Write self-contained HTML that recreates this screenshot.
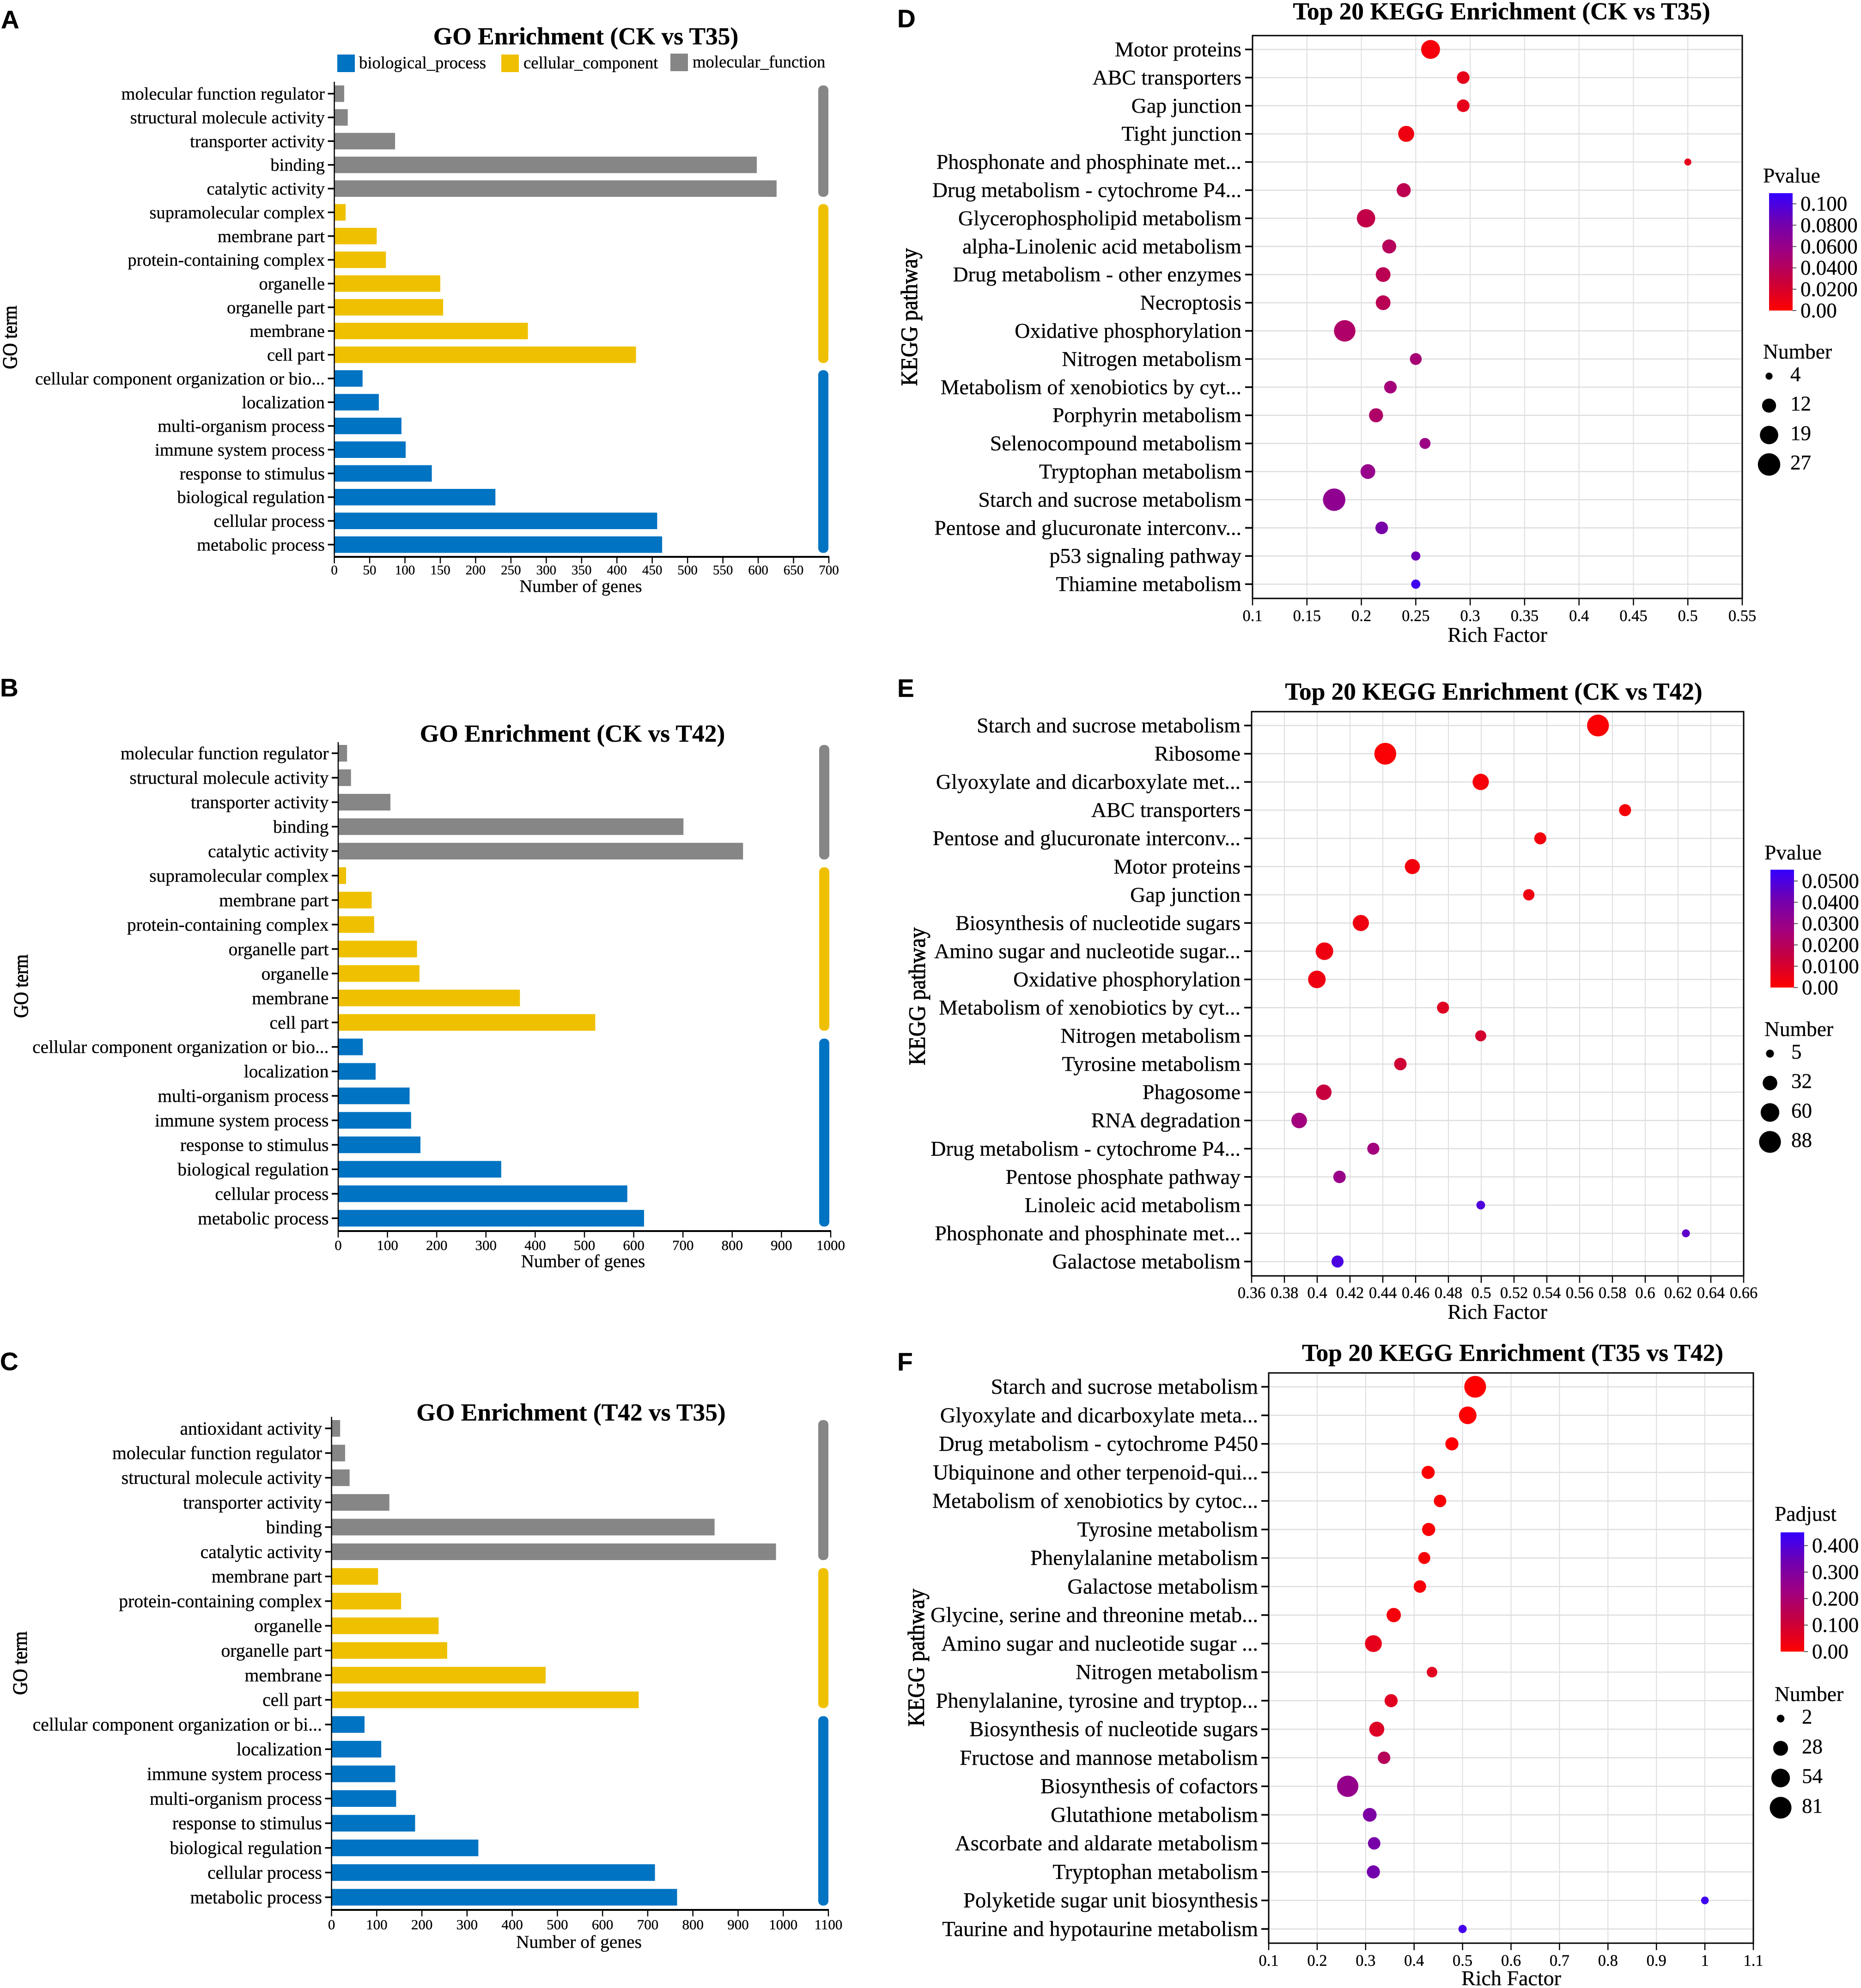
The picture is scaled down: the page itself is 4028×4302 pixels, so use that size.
<!DOCTYPE html>
<html lang="en">
<head>
<meta charset="utf-8">
<title>GO and KEGG Enrichment Panels</title>
<style>
html,body{margin:0;padding:0;background:#fff;}
svg{display:block;}
text{font-family:"Liberation Serif","DejaVu Serif",serif;fill:#000;stroke:#000;stroke-width:0.3px;}
.letter{font-family:"Liberation Sans","DejaVu Sans",sans-serif;font-weight:700;font-size:55px;}
.title{font-weight:700;text-anchor:middle;}
.axt{text-anchor:middle;}
.yt{stroke-width:0.9px;}
.legt{font-size:45.5px;}
</style>
</head>
<body>
<svg id="figure" xmlns="http://www.w3.org/2000/svg" width="4028" height="4302" viewBox="0 0 4028 4302">
  <defs>
    <linearGradient id="pgrad" x1="0" y1="1" x2="0" y2="0">
      <stop offset="0" stop-color="#ff0000"/>
      <stop offset="0.25" stop-color="#c8003c"/>
      <stop offset="0.5" stop-color="#a00080"/>
      <stop offset="0.75" stop-color="#7000b0"/>
      <stop offset="1" stop-color="#3400ff"/>
    </linearGradient>
  </defs>
  <rect x="0" y="0" width="4028" height="4302" fill="#ffffff"/>

  <g id="panelA">
    <text class="letter" x="2" y="61">A</text>
    <text class="title" x="1268" y="96" font-size="53.4">GO Enrichment (CK vs T35)</text>
    <rect x="730" y="118" width="38" height="38" fill="#0073C2"/>
    <text x="777" y="148" font-size="36.7">biological_process</text>
    <rect x="1085" y="118" width="38" height="38" fill="#EFC000"/>
    <text x="1133" y="148" font-size="36.7">cellular_component</text>
    <rect x="1451" y="116" width="38" height="38" fill="#868686"/>
    <text x="1499" y="146" font-size="36.7">molecular_function</text>
    <text class="axt yt" font-size="39" transform="translate(36,730) rotate(-90) scale(1,1.13)">GO term</text>
    <text class="axt" x="1257" y="1281" font-size="38.5">Number of genes</text>
  </g>

  <g id="panelB">
    <text class="letter" x="0" y="1507">B</text>
    <text class="title" x="1239" y="1605" font-size="53.4">GO Enrichment (CK vs T42)</text>
    <text class="axt yt" font-size="39" transform="translate(60,2134) rotate(-90) scale(1,1.13)">GO term</text>
    <text class="axt" x="1262" y="2742" font-size="39">Number of genes</text>
  </g>

  <g id="panelC">
    <text class="letter" x="0" y="2965">C</text>
    <text class="title" x="1236" y="3074" font-size="53.4">GO Enrichment (T42 vs T35)</text>
    <text class="axt yt" font-size="39" transform="translate(58,3599) rotate(-90) scale(1,1.13)">GO term</text>
    <text class="axt" x="1253" y="4215" font-size="39.5">Number of genes</text>
  </g>

  <g id="panelD">
    <text class="letter" x="1942" y="59">D</text>
    <text class="title" x="3250" y="42" font-size="53.3">Top 20 KEGG Enrichment (CK vs T35)</text>
    <text class="axt yt" font-size="46.5" transform="translate(1985,686) rotate(-90) scale(1,1.1)">KEGG pathway</text>
    <text class="axt" x="3241" y="1389" font-size="46">Rich Factor</text>
    <text class="legt" x="3816" y="395">Pvalue</text>
    <text class="legt" x="3816" y="776">Number</text>
  </g>

  <g id="panelE">
    <text class="letter" x="1942" y="1508">E</text>
    <text class="title" x="3233" y="1514" font-size="53.3">Top 20 KEGG Enrichment (CK vs T42)</text>
    <text class="axt yt" font-size="46.5" transform="translate(2002,2156) rotate(-90) scale(1,1.1)">KEGG pathway</text>
    <text class="axt" x="3241" y="2854" font-size="46">Rich Factor</text>
    <text class="legt" x="3819" y="1860">Pvalue</text>
    <text class="legt" x="3819" y="2242">Number</text>
  </g>

  <g id="panelF">
    <text class="letter" x="1942" y="2966">F</text>
    <text class="title" x="3274" y="2945" font-size="53.3">Top 20 KEGG Enrichment (T35 vs T42)</text>
    <text class="axt yt" font-size="46.5" transform="translate(2000,3587) rotate(-90) scale(1,1.1)">KEGG pathway</text>
    <text class="axt" x="3271" y="4296" font-size="46">Rich Factor</text>
    <text class="legt" x="3841" y="3291">Padjust</text>
    <text class="legt" x="3841" y="3681">Number</text>
  </g>
</svg>

<script>
/* ===== Chart data ===== */
const goATerms = ["molecular function regulator","structural molecule activity","transporter activity","binding","catalytic activity","supramolecular complex","membrane part","protein-containing complex","organelle","organelle part","membrane","cell part","cellular component organization or bio...","localization","multi-organism process","immune system process","response to stimulus","biological regulation","cellular process","metabolic process"];
const goAValues = [14,19,86,598,626,16,60,73,150,154,274,427,40,63,95,101,138,228,457,464];
const goAGroupSizes = [5,7,8];
const goATicks = [0,50,100,150,200,250,300,350,400,450,500,550,600,650,700];

const goBTerms = ["molecular function regulator","structural molecule activity","transporter activity","binding","catalytic activity","supramolecular complex","membrane part","protein-containing complex","organelle part","organelle","membrane","cell part","cellular component organization or bio...","localization","multi-organism process","immune system process","response to stimulus","biological regulation","cellular process","metabolic process"];
const goBValues = [18,26,106,701,822,16,68,73,160,165,369,522,50,76,145,148,167,331,587,621];
const goBGroupSizes = [5,7,8];
const goBTicks = [0,100,200,300,400,500,600,700,800,900,1000];

const goCTerms = ["antioxidant activity","molecular function regulator","structural molecule activity","transporter activity","binding","catalytic activity","membrane part","protein-containing complex","organelle","organelle part","membrane","cell part","cellular component organization or bi...","localization","immune system process","multi-organism process","response to stimulus","biological regulation","cellular process","metabolic process"];
const goCValues = [19,30,40,128,848,984,103,154,237,256,474,680,73,110,141,143,185,325,716,765];
const goCGroupSizes = [6,6,8];
const goCTicks = [0,100,200,300,400,500,600,700,800,900,1000,1100];

const keggDTerms = ["Motor proteins","ABC transporters","Gap junction","Tight junction","Phosphonate and phosphinate met...","Drug metabolism - cytochrome P4...","Glycerophospholipid metabolism","alpha-Linolenic acid metabolism","Drug metabolism - other enzymes","Necroptosis","Oxidative phosphorylation","Nitrogen metabolism","Metabolism of xenobiotics by cyt...","Porphyrin metabolism","Selenocompound metabolism","Tryptophan metabolism","Starch and sucrose metabolism","Pentose and glucuronate interconv...","p53 signaling pathway","Thiamine metabolism"];
const keggDRich = [0.2636,0.2936,0.2936,0.2412,0.5,0.2389,0.2043,0.2256,0.22,0.22,0.1847,0.25,0.2267,0.2135,0.2585,0.206,0.175,0.2187,0.25,0.25];
const keggDCounts = [20,10,10,15,4,12,19,12,13,13,25,9,10,12,8,13,27,10,6,6];
const keggDPvalues = [0.005,0.012,0.012,0.008,0.012,0.035,0.032,0.04,0.037,0.037,0.045,0.05,0.052,0.045,0.058,0.06,0.065,0.078,0.085,0.105];
const keggDTickLabels = ["0.1","0.15","0.2","0.25","0.3","0.35","0.4","0.45","0.5","0.55"];
const keggDColorTicks = ["0.100","0.0800","0.0600","0.0400","0.0200","0.00"];
const keggDSizeTicks = [4,12,19,27];

const keggETerms = ["Starch and sucrose metabolism","Ribosome","Glyoxylate and dicarboxylate met...","ABC transporters","Pentose and glucuronate interconv...","Motor proteins","Gap junction","Biosynthesis of nucleotide sugars","Amino sugar and nucleotide sugar...","Oxidative phosphorylation","Metabolism of xenobiotics by cyt...","Nitrogen metabolism","Tyrosine metabolism","Phagosome","RNA degradation","Drug metabolism - cytochrome P4...","Pentose phosphate pathway","Linoleic acid metabolism","Phosphonate and phosphinate met...","Galactose metabolism"];
const keggERich = [0.5712,0.4415,0.4997,0.5877,0.536,0.458,0.529,0.4266,0.4044,0.3998,0.4767,0.4997,0.4507,0.404,0.389,0.4342,0.4136,0.4997,0.6248,0.4124];
const keggECounts = [88,88,43,19,19,35,16,42,52,52,19,15,21,38,38,19,21,7,5,19];
const keggEPvalues = [0.001,0.001,0.002,0.002,0.003,0.003,0.004,0.004,0.004,0.004,0.008,0.011,0.012,0.014,0.027,0.027,0.03,0.049,0.046,0.05];
const keggETickLabels = ["0.36","0.38","0.4","0.42","0.44","0.46","0.48","0.5","0.52","0.54","0.56","0.58","0.6","0.62","0.64","0.66"];
const keggEColorTicks = ["0.0500","0.0400","0.0300","0.0200","0.0100","0.00"];
const keggESizeTicks = [5,32,60,88];

const keggFTerms = ["Starch and sucrose metabolism","Glyoxylate and dicarboxylate meta...","Drug metabolism - cytochrome P450","Ubiquinone and other terpenoid-qui...","Metabolism of xenobiotics by cytoc...","Tyrosine metabolism","Phenylalanine metabolism","Galactose metabolism","Glycine, serine and threonine metab...","Amino sugar and nucleotide sugar ...","Nitrogen metabolism","Phenylalanine, tyrosine and tryptop...","Biosynthesis of nucleotide sugars","Fructose and mannose metabolism","Biosynthesis of cofactors","Glutathione metabolism","Ascorbate and aldarate metabolism","Tryptophan metabolism","Polyketide sugar unit biosynthesis","Taurine and hypotaurine metabolism"];
const keggFRich = [0.526,0.5106,0.478,0.429,0.4536,0.43,0.421,0.412,0.358,0.316,0.437,0.3526,0.323,0.338,0.263,0.3085,0.3176,0.316,1,0.5];
const keggFCounts = [81,46,19,19,16,19,14,16,25,41,9,19,29,16,77,22,16,19,2,3];
const keggFPadjust = [0.002,0.002,0.003,0.01,0.01,0.012,0.015,0.018,0.02,0.05,0.06,0.06,0.07,0.16,0.25,0.31,0.32,0.33,0.43,0.42];
const keggFTickLabels = ["0.1","0.2","0.3","0.4","0.5","0.6","0.7","0.8","0.9","1","1.1"];
const keggFColorTicks = ["0.400","0.300","0.200","0.100","0.00"];
const keggFSizeTicks = [2,28,54,81];

/* ===== Helpers ===== */
const SVGNS = "http://www.w3.org/2000/svg";
function make(tag, attrs, parent, text) {
  const n = document.createElementNS(SVGNS, tag);
  for (const k in attrs) n.setAttribute(k, attrs[k]);
  if (text !== undefined) n.textContent = text;
  parent.appendChild(n);
  return n;
}
function slug(s) {
  return String(s).toLowerCase().replace(/[^a-z0-9]+/g, "-").replace(/^-|-$/g, "");
}
function linear(d0, d1, r0, r1) {
  return function (v) { return r0 + (v - d0) / (d1 - d0) * (r1 - r0); };
}
const gradientStops = [[255,0,0],[200,0,60],[160,0,128],[112,0,176],[52,0,255]];
function gradientColor(t) {
  const c = Math.max(0, Math.min(1, t)) * (gradientStops.length - 1);
  const i = Math.min(gradientStops.length - 2, Math.floor(c));
  const f = c - i;
  const a = gradientStops[i], b = gradientStops[i + 1];
  return "rgb(" + [0,1,2].map(function (k) { return Math.round(a[k] + (b[k] - a[k]) * f); }).join(",") + ")";
}

/* ===== GO bar panels ===== */
const goColors = ["#868686", "#EFC000", "#0073C2"];
function drawGo(panelId, terms, values, groupSizes, ticks, L) {
  const g = document.getElementById(panelId);
  const xMax = ticks[ticks.length - 1];
  const x = linear(0, xMax, L.x0, L.x1);
  const y = function (i) { return L.rowFirst + i * L.rowStep; };
  let groupIndex = 0, remaining = groupSizes[0];
  terms.forEach(function (term, i) {
    if (remaining === 0) { groupIndex++; remaining = groupSizes[groupIndex]; }
    remaining--;
    const bar = make("rect", { x: L.x0, y: y(i) - L.barH / 2, width: x(values[i]) - L.x0, height: L.barH, fill: goColors[groupIndex] }, g);
    
    
    const tick = make("line", { x1: L.x0 - 14, x2: L.x0, y1: y(i), y2: y(i), stroke: "#000", "stroke-width": 3.5 }, g);
    
    
    const label = make("text", { x: L.labelX, y: y(i) + L.font * 0.335, "font-size": L.font, "text-anchor": "end" }, g, term);
    
    
  });
  let start = 0;
  groupSizes.forEach(function (size, gi) {
    const top = y(start) - L.barH / 2;
    const bottom = y(start + size - 1) + L.barH / 2;
    const side = make("rect", { x: L.sideX, y: top, width: 22, height: bottom - top, rx: 10, ry: 10, fill: goColors[gi] }, g);
    
    
    start += size;
  });
  const yAxis = make("line", { x1: L.x0, x2: L.x0, y1: L.axisTop, y2: L.axisBottom, stroke: "#000", "stroke-width": 2.5 }, g);
  
  
  const xAxis = make("line", { x1: L.x0 - 1, x2: L.x1 + 1, y1: L.axisBottom, y2: L.axisBottom, stroke: "#000", "stroke-width": 4 }, g);
  
  
  ticks.forEach(function (t) {
    const tl = make("line", { x1: x(t), x2: x(t), y1: L.axisBottom, y2: L.axisBottom + 14, stroke: "#000", "stroke-width": 2.5 }, g);
    
    
    const lb = make("text", { x: x(t), y: L.tickBase, "font-size": L.tickFont, "text-anchor": "middle" }, g, String(t));
    
    
  });
}

/* ===== KEGG dot panels ===== */
function drawKegg(panelId, terms, rich, counts, colorValues, tickLabels, colorTicks, sizeTicks, L) {
  const g = document.getElementById(panelId);
  const tickNumbers = tickLabels.map(Number);
  const x = linear(tickNumbers[0], tickNumbers[tickNumbers.length - 1], L.x0, L.x1);
  const y = function (i) { return L.rowFirst + i * L.rowStep; };
  const r = function (n) { return L.ra * Math.sqrt(n) + L.rb; };
  const colorT = linear(0, L.colorMax, 0, 1);

  tickLabels.forEach(function (t) {
    const gl = make("line", { x1: x(Number(t)), x2: x(Number(t)), y1: L.top, y2: L.bottom, stroke: "#dedede", "stroke-width": 2 }, g);
    
    
  });
  terms.forEach(function (term, i) {
    const gl = make("line", { x1: L.x0, x2: L.x1, y1: y(i), y2: y(i), stroke: "#dedede", "stroke-width": 2.5 }, g);
    
    
    const tick = make("line", { x1: L.x0 - 16, x2: L.x0, y1: y(i), y2: y(i), stroke: "#000", "stroke-width": 3.5 }, g);
    
    
    const label = make("text", { x: L.labelX, y: y(i) + 15, "font-size": L.labelFont, "text-anchor": "end" }, g, term);
    
    
  });
  const frame = make("rect", { x: L.x0, y: L.top, width: L.x1 - L.x0, height: L.bottom - L.top, fill: "none", stroke: "#000", "stroke-width": 3 }, g);
  
  
  terms.forEach(function (term, i) {
    const dot = make("circle", { cx: x(rich[i]), cy: y(i), r: r(counts[i]), fill: gradientColor(colorT(colorValues[i])) }, g);
    
    
  });
  tickLabels.forEach(function (t) {
    const tl = make("line", { x1: x(Number(t)), x2: x(Number(t)), y1: L.bottom, y2: L.bottom + 15, stroke: "#000", "stroke-width": 2.5 }, g);
    
    
    const lb = make("text", { x: x(Number(t)), y: L.tickBase, "font-size": 34.5, "text-anchor": "middle" }, g, t);
    
    
  });

  /* colour bar legend */
  const cy = linear(0, L.colorMax, L.barBottom, L.barTop);
  const bar = make("rect", { x: L.barX, y: L.barTop, width: 51, height: L.barBottom - L.barTop, fill: "url(#pgrad)" }, g);
  
  
  colorTicks.forEach(function (t) {
    const v = Number(t);
    const tl = make("line", { x1: L.barX + 51, x2: L.barX + 59, y1: cy(v), y2: cy(v), stroke: "#555", "stroke-width": 2 }, g);
    
    
    const lb = make("text", { x: L.barX + 68, y: cy(v) + 15, "font-size": 45 }, g, t);
    
    
  });

  /* size legend */
  sizeTicks.forEach(function (n, i) {
    const rowY = L.sizeFirst + i * L.sizeStep;
    const c = make("circle", { cx: L.sizeX, cy: rowY, r: r(n), fill: "#000" }, g);
    
    
    const lb = make("text", { x: L.sizeX + 46, y: rowY + 11, "font-size": 45 }, g, String(n));
    
    
  });
}

drawGo("panelA", goATerms, goAValues, goAGroupSizes, goATicks, { x0: 723.6, x1: 1794, rowFirst: 202.7, rowStep: 51.36, barH: 35.7, axisTop: 177, axisBottom: 1205, labelX: 703, font: 38.5, sideX: 1771, tickBase: 1243, tickFont: 29 });
drawGo("panelB", goBTerms, goBValues, goBGroupSizes, goBTicks, { x0: 732, x1: 1798, rowFirst: 1630, rowStep: 52.96, barH: 36, axisTop: 1606, axisBottom: 2664, labelX: 711.5, font: 39.4, sideX: 1773, tickBase: 2705, tickFont: 31 });
drawGo("panelC", goCTerms, goCValues, goCGroupSizes, goCTicks, { x0: 717.6, x1: 1793, rowFirst: 3091, rowStep: 53.4, barH: 36, axisTop: 3066, axisBottom: 4133, labelX: 697, font: 39.7, sideX: 1771, tickBase: 4175, tickFont: 31 });

drawKegg("panelD", keggDTerms, keggDRich, keggDCounts, keggDPvalues, keggDTickLabels, keggDColorTicks, keggDSizeTicks, { x0: 2711, x1: 3771, top: 77, bottom: 1295, rowFirst: 107, rowStep: 60.9, labelX: 2687, labelFont: 45.9, tickBase: 1344, ra: 5.2, rb: -2.8, colorMax: 0.11, barX: 3829, barTop: 418, barBottom: 672, sizeX: 3829, sizeFirst: 814, sizeStep: 63.7 });
drawKegg("panelE", keggETerms, keggERich, keggECounts, keggEPvalues, keggETickLabels, keggEColorTicks, keggESizeTicks, { x0: 2709, x1: 3774, top: 1540, bottom: 2761, rowFirst: 1570, rowStep: 61.05, labelX: 2685, labelFont: 46, tickBase: 2809, ra: 2.1, rb: 3.9, colorMax: 0.0553, barX: 3832, barTop: 1882, barBottom: 2137, sizeX: 3831, sizeFirst: 2280, sizeStep: 63.7 });
drawKegg("panelF", keggFTerms, keggFRich, keggFCounts, keggFPadjust, keggFTickLabels, keggFColorTicks, keggFSizeTicks, { x0: 2746, x1: 3795, top: 2971, bottom: 4205, rowFirst: 3001, rowStep: 61.75, labelX: 2723, labelFont: 46.6, tickBase: 4254, ra: 2.0, rb: 5.5, colorMax: 0.45, barX: 3854, barTop: 3316, barBottom: 3574, sizeX: 3854, sizeFirst: 3719, sizeStep: 64.3 });
</script>
</body>
</html>
